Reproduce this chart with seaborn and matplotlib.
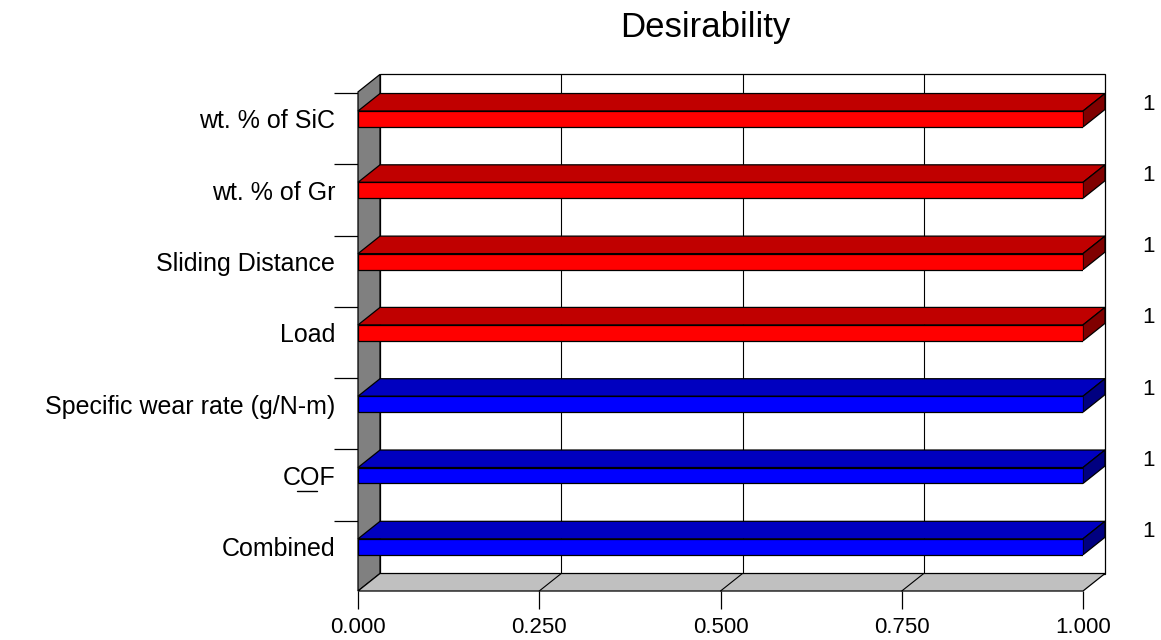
import matplotlib
matplotlib.use("Agg")
import matplotlib.pyplot as plt
from matplotlib.patches import Polygon
from matplotlib.lines import Line2D
from matplotlib.ticker import FormatStrFormatter
import seaborn as sns
import pandas as pd

# Desirability of each factor / response at the optimum
names = ["wt. % of SiC", "wt. % of Gr", "Sliding Distance", "Load",
         "Specific wear rate (g/N-m)", "COF", "Combined"]
desirability = [1.0, 1.0, 1.0, 1.0, 1.0, 1.0, 1.0]
kind = ["factor", "factor", "factor", "factor", "response", "response", "response"]
x_ticks = [0.0, 0.25, 0.5, 0.75, 1.0]

front_col = {"factor": "#FF0000", "response": "#0000FF"}
top_col = {"factor": "#C00000", "response": "#0000C0"}
side_col = {"factor": "#800000", "response": "#000080"}

sns.set_style("white")
plt.rcParams["font.family"] = ["Liberation Sans", "DejaVu Sans"]
plt.rcParams["text.color"] = "black"

W, H = 1161, 640
fig = plt.figure(figsize=(W / 100, H / 100), dpi=100)
fig.patch.set_facecolor("white")

# axes frame: x 0..1 spans the front plane, y in category units
y_top, y_floor = -0.9, 6.62
px_per_cat = 71.3
ax_left, ax_right = 358, 1083
ax_top_px = 119 + y_top * px_per_cat
ax_bot_px = 119 + y_floor * px_per_cat
ax = fig.add_axes([ax_left / W, 1 - ax_bot_px / H,
                   (ax_right - ax_left) / W, (ax_bot_px - ax_top_px) / H])

df = pd.DataFrame({"name": names, "value": desirability, "kind": kind})
bar_h = 0.224
sns.barplot(data=df, x="value", y="name", hue="kind", palette=front_col,
            orient="h", dodge=False, width=bar_h, saturation=1,
            edgecolor="black", linewidth=0.9, legend=False, ax=ax, zorder=3)

ax.set_xlim(0, 1)
ax.set_ylim(y_floor, y_top)
for s in ax.spines.values():
    s.set_visible(False)
ax.set_xlabel("")
ax.set_ylabel("")

# depth of the pseudo-3D box in data units
dx = 22 / (ax_right - ax_left)
dy = 17.5 / px_per_cat
wall_top = -0.38

# back wall with vertical gridlines
back = Polygon([(dx, wall_top - dy), (1 + dx, wall_top - dy),
                (1 + dx, y_floor - dy), (dx, y_floor - dy)],
               closed=True, facecolor="white", edgecolor="black",
               linewidth=0.9, zorder=0.5, clip_on=False)
ax.add_patch(back)
for t in x_ticks[1:-1]:
    ax.add_line(Line2D([t + dx, t + dx], [wall_top - dy, y_floor - dy],
                       color="black", linewidth=0.8, zorder=0.6))

# left wall
left = Polygon([(0, wall_top), (dx, wall_top - dy), (dx, y_floor - dy), (0, y_floor)],
               closed=True, facecolor="#808080", edgecolor="black",
               linewidth=0.9, zorder=0.7, clip_on=False)
ax.add_patch(left)

# floor with diagonal gridlines
floor = Polygon([(0, y_floor), (1, y_floor), (1 + dx, y_floor - dy), (dx, y_floor - dy)],
                closed=True, facecolor="#C0C0C0", edgecolor="black",
                linewidth=0.9, zorder=0.7, clip_on=False)
ax.add_patch(floor)
for t in x_ticks[1:-1]:
    ax.add_line(Line2D([t, t + dx], [y_floor, y_floor - dy],
                       color="black", linewidth=0.8, zorder=0.8, clip_on=False))

# top and side faces of each bar, plus value labels
for i, (v, k) in enumerate(zip(desirability, kind)):
    y0, y1 = i - bar_h / 2, i + bar_h / 2
    top = Polygon([(0, y0), (v, y0), (v + dx, y0 - dy), (dx, y0 - dy)],
                  closed=True, facecolor=top_col[k], edgecolor="black",
                  linewidth=0.9, zorder=2.5, clip_on=False)
    side = Polygon([(v, y0), (v + dx, y0 - dy), (v + dx, y1 - dy), (v, y1)],
                   closed=True, facecolor=side_col[k], edgecolor="black",
                   linewidth=0.9, zorder=2.5, clip_on=False)
    ax.add_patch(top)
    ax.add_patch(side)
    ax.text(v + 0.091, i - 0.21, f"{v:g}", ha="center", va="center",
            fontsize=16, color="black", clip_on=False)

# stray underline beneath the COF label
ax.add_line(Line2D([-0.084, -0.057], [5.217, 5.217], color="black",
                   linewidth=1.0, clip_on=False))

# x axis ticks below the floor
ax.set_xticks(x_ticks)
ax.xaxis.set_major_formatter(FormatStrFormatter("%.3f"))
ax.tick_params(axis="x", which="major", direction="out", length=13, width=0.9,
               pad=6, labelsize=16, bottom=True, colors="black",
               labelcolor="black")

# category labels; short separators drawn as minor ticks
ax.tick_params(axis="y", which="major", length=0, pad=16.5, labelsize=18,
               labelcolor="black")
ax.set_yticks([i - 0.365 for i in range(len(names))], minor=True)
ax.tick_params(axis="y", which="minor", direction="out", length=17.3,
               width=0.9, left=True, colors="black")

fig.text(705 / W, 1 - 37 / H, "Desirability", ha="center", va="baseline",
         fontsize=25, color="black")

fig.savefig("out.png", dpi=100, facecolor="white")
